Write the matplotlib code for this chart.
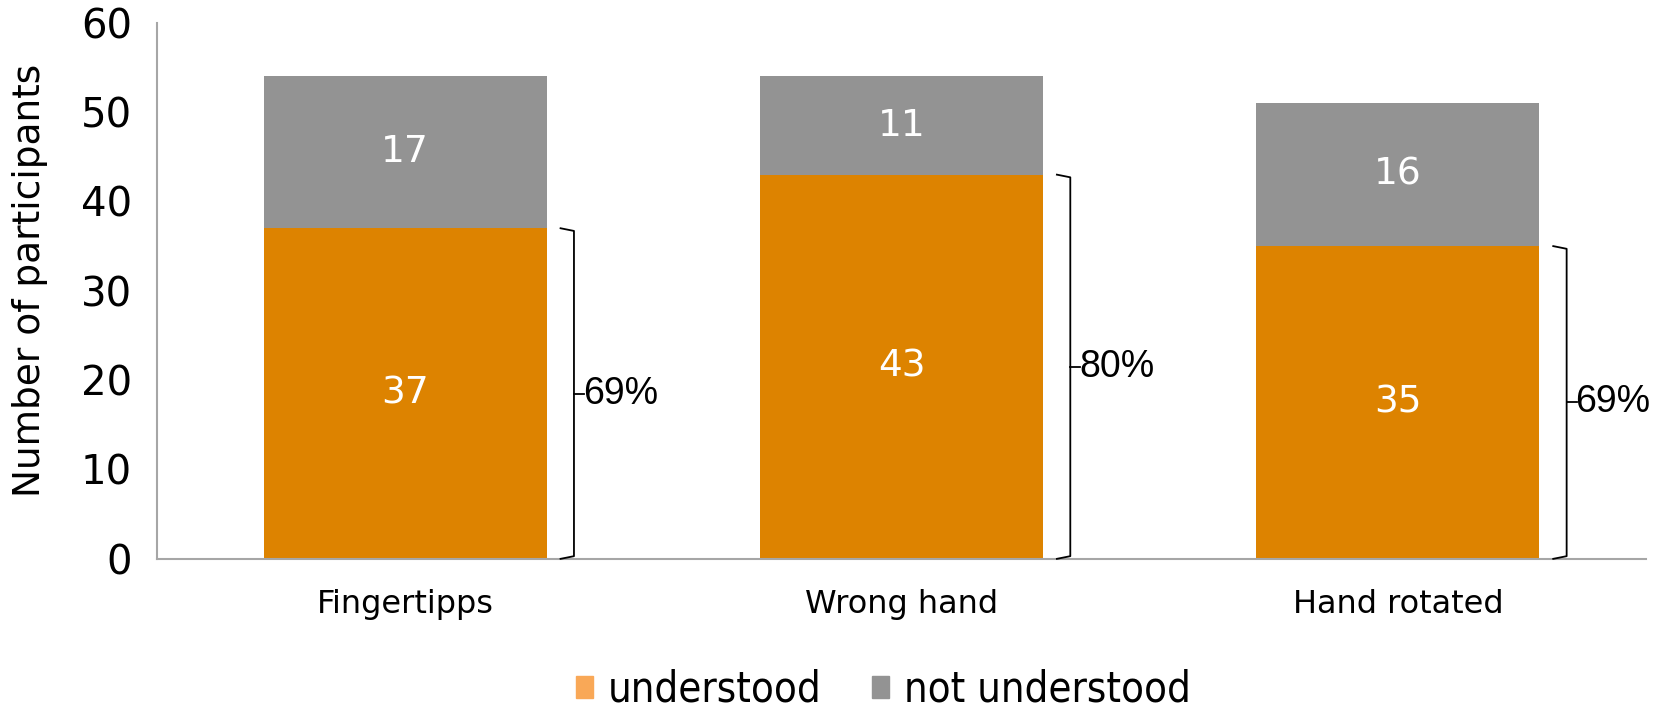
import matplotlib
matplotlib.use("Agg")
import matplotlib.pyplot as plt
from matplotlib.patches import Patch

categories = ["Fingertipps", "Wrong hand", "Hand rotated"]
understood = [37, 43, 35]
not_understood = [17, 11, 16]
percent_labels = ["69%", "80%", "69%"]
y_ticks = [0, 10, 20, 30, 40, 50, 60]

ORANGE = "#DD8300"
ORANGE_LEG = "#F9A857"
GRAY = "#939393"
AXIS = "#A6A6A6"

fig = plt.figure(figsize=(16.6, 7.11), dpi=100)
ax = fig.add_axes([0.0946, 0.214, 0.8970, 0.754])

x = list(range(len(categories)))
bw = 0.57
ax.bar(x, understood, width=bw, color=ORANGE, zorder=2)
ax.bar(x, not_understood, width=bw, bottom=understood, color=GRAY, zorder=2)

for xi, u, n in zip(x, understood, not_understood):
    ax.text(xi, u / 2, str(u), ha="center", va="center", color="white",
            fontsize=27, family="DejaVu Sans")
    ax.text(xi, u + n / 2, str(n), ha="center", va="center", color="white",
            fontsize=27, family="DejaVu Sans")

# brackets
for xi, u, lab in zip(x, understood, percent_labels):
    x0 = xi + bw / 2 + 0.028
    xv = xi + bw / 2 + 0.055
    xt = xv + 0.02
    ax.plot([x0, xv, xv, x0], [u, u - 0.3, 0.3, 0], color="black", lw=1.3,
            clip_on=False, zorder=3, solid_joinstyle="round")
    ax.plot([xv, xt], [u / 2, u / 2], color="black", lw=1.3, clip_on=False, zorder=3)
    ax.text(xt - 0.002, u / 2, lab, ha="left", va="center", fontsize=27,
            family="Liberation Sans", color="black")

ax.set_xlim(-0.5, len(categories) - 0.5)
ax.set_ylim(0, 60)
ax.set_yticks(y_ticks)
ax.set_xticks(x)
ax.set_xticklabels(categories, fontsize=23, family="DejaVu Sans")
ax.tick_params(axis="y", length=0, pad=18, labelsize=29)
ax.tick_params(axis="x", length=0, pad=22)
ax.set_ylabel("Number of participants", fontsize=27)
ax.yaxis.set_label_coords(-0.073, 0.52)

for s in ["top", "right"]:
    ax.spines[s].set_visible(False)
for s in ["left", "bottom"]:
    ax.spines[s].set_color(AXIS)
    ax.spines[s].set_linewidth(1.5)

handles = [Patch(color=ORANGE_LEG, label="understood"),
           Patch(color=GRAY, label="not understood")]
fig.legend(handles=handles, loc="center", bbox_to_anchor=(0.532, 0.03),
           ncol=2, frameon=False,
           prop={"family": "DejaVu Sans", "size": 30, "stretch": "condensed"},
           handlelength=0.42, handleheight=0.42, handletextpad=0.35, columnspacing=1.2)

fig.savefig("out.png", dpi=100)
